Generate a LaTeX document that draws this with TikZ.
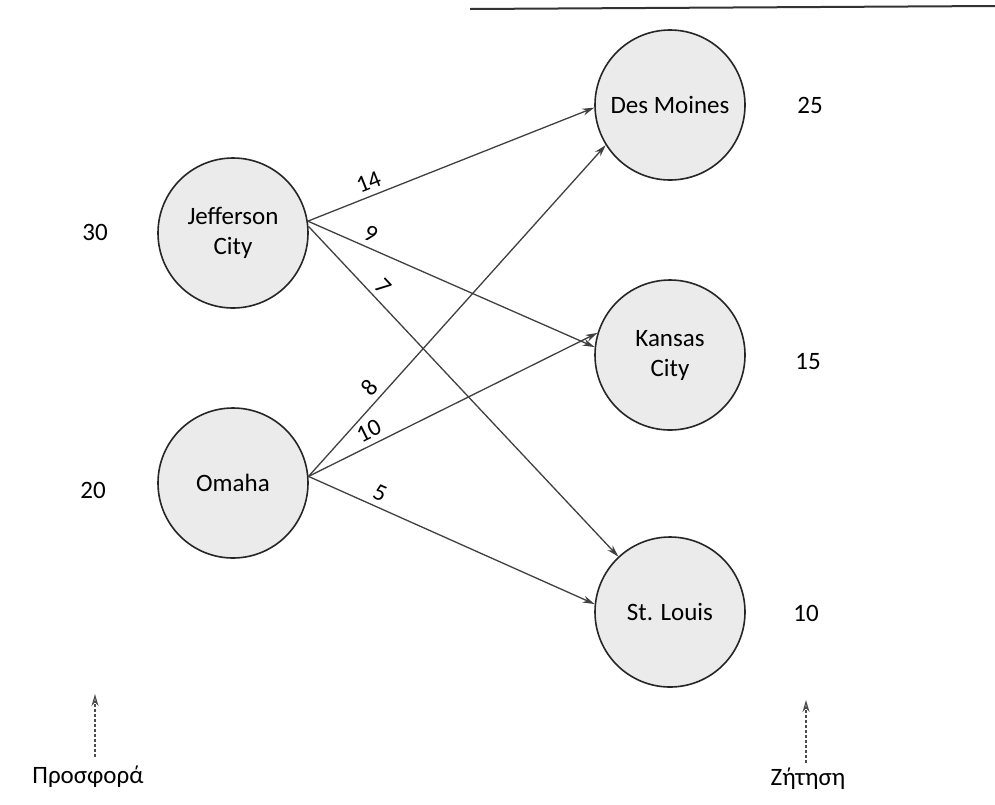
\documentclass[tikz,border=0pt]{standalone}
\usepackage{fontspec}
\setmainfont{Carlito}
\usetikzlibrary{arrows.meta}
\begin{document}
\begin{tikzpicture}[x=1pt,y=-1pt,
  city/.style={circle,draw=black!85,line width=1.6pt,fill=black!8,minimum size=150pt,inner sep=0pt,align=center,font=\fontsize{25}{30}\selectfont},
  qty/.style={font=\fontsize{25}{30}\selectfont},
  cost/.style={font=\fontsize{24}{28}\selectfont,sloped,above=5pt,inner sep=0.5pt},
  link/.style={draw=black!75,line width=1.3pt,-{Stealth[length=12pt,width=7pt]}},
  note/.style={draw=black!70,line width=1.2pt,densely dashed,-{Stealth[length=12pt,width=7pt,open]}}]
\useasboundingbox (0,0) rectangle (995,804);
\fill[white] (0,0) rectangle (995,804);
\draw[black!80,line width=2pt] (470,9) -- (995,6);
% cities
\node[city] (JC) at (233,233) {Jefferson\\City};
\node[city] (OM) at (233,483) {Omaha};
\node[city] (DM) at (670,105) {Des Moines};
\node[city] (KC) at (670,355) {Kansas\\City};
\node[city] (SL) at (670,612) {St. Louis};
% supply and demand
\node[qty] (sJC) at (95,232) {30};
\node[qty] (sOM) at (93,490) {20};
\node[qty] (dDM) at (810,105) {25};
\node[qty] (dKC) at (808,362) {15};
\node[qty] (dSL) at (806,613) {10};
% routes
\draw[link] (JC.9) -- node[cost,pos=0.23] {14} (DM.182);
\draw[link] (JC.9) -- node[cost,pos=0.2] {9} (KC.174);
\draw[link] (JC.5) -- node[cost,pos=0.21] {7} (SL.133);
\draw[link] (OM.5) -- node[cost,pos=0.24] {8} (DM.212);
\draw[link] (OM.5) -- node[cost,pos=0.23] {10} (KC.163);
\draw[link] (OM.5) -- node[cost,pos=0.23] {5} (SL.174);
% labels below
\node[qty] (pr) at (88,777) {Προσφορά};
\node[qty] (zt) at (808,779) {Ζήτηση};
\coordinate (pt) at (95,694);
\coordinate (zp) at (806,700);
\draw[note] (95,757) -- (pt);
\draw[note] (806,763) -- (zp);
\end{tikzpicture}
\end{document}
